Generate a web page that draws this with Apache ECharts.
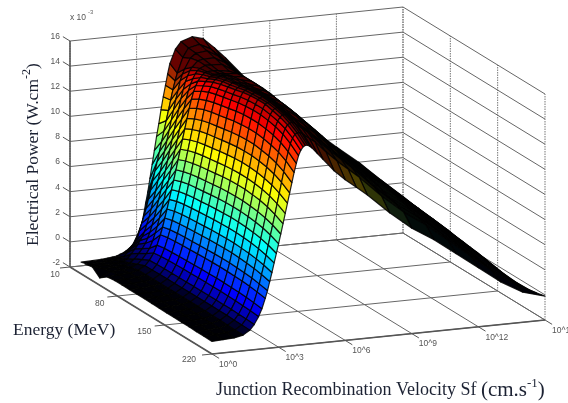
<!DOCTYPE html>
<html><head><meta charset="utf-8">
<style>html,body{margin:0;padding:0;background:#fff;overflow:hidden}#c{width:568px;height:403px;filter:blur(0.35px)}</style>
<script src="https://cdn.jsdelivr.net/npm/echarts@6/dist/echarts.min.js"></script>
</head><body><div id="c"></div>
<script>
const energyTicks=[10,80,150,220];
const energyTickLabels=['10','80','150','220'];
const sfTicks=[0,3,6,9,12,15];
const sfTickLabels=['10^0','10^3','10^6','10^9','10^12','10^1'];
const powerTicks=[-2,0,2,4,6,8,10,12,14,16];
const powerTickLabels=['-2','0','2','4','6','8','10','12','14','16'];
const energies=[10,21,32,43,54,65,76,87,98,109,120,131,142,153,164,175,186,197,208,220];
const sfExponents=[0,.5,1,1.4,1.7,1.9,2.1,2.25,2.4,2.5,2.6,2.7,2.8,2.9,3,3.1,3.2,3.3,3.4,3.5,3.6,3.7,3.8,3.9,4,4.1,4.2,4.3,4.4,4.5,4.75,5,5.5,6,6.5,7,8,9,10,11,12,13,14,15];
const power=[
[null,-1.7,-1.68,-1.65,-1.6,-1.55,-1.5,-1.4,-1.3,-1.2,-1.1,-.97,-.85,-.75,-.65,-.2,.6,1.4,2.4,3.3,4.4,5.5,6.6,7.7,8.7,9.8,10.8,11.7,12.6,13.4,14.5,15.05,15.35,15.1,14.3,13.4,11.44,9.9,8.3,6.85,5.4,4,2.4,.9],
[null,-1.53,-1.5,-1.45,-1.4,-1.3,-1.2,-.9,-.65,-.45,-.2,.1,.75,1.35,1.9,2.5,3.2,3.9,4.65,5.4,6.15,6.9,7.7,8.5,9.3,10.1,10.9,11.7,12.4,13,14.2,14.9,15.1,14.65,13.85,13,11.2,9.65,8.1,6.65,5.25,3.85,2.3,.8],
[-1.04,-1.3,-1.3,-1.25,-1.15,-1,-.6,-.25,.1,.4,.7,1.1,1.65,2.2,2.85,3.55,4.25,5.05,5.75,6.55,7.35,8.15,8.95,9.75,10.55,11.35,12.05,12.8,13.3,13.7,14.5,14.85,14.95,14.45,13.65,12.8,11,9.45,7.95,6.5,5.1,3.7,2.2,.7],
[-.91,-1.15,-1.1,-1.05,-.9,-.6,-.2,.14,.55,.95,1.4,1.95,2.55,3.25,3.95,4.7,5.45,6.2,7,7.8,8.6,9.4,10.2,11,11.8,12.5,13.1,13.55,13.95,14.2,14.65,14.75,14.75,14.25,13.45,12.6,10.8,9.3,7.8,6.4,5,3.6,2.1,.6],
[-1.42,-1,-.95,-.85,-.62,-.3,.14,.55,1.15,1.7,2.25,2.9,3.6,4.3,5.1,5.8,6.6,7.4,8.2,9,9.8,10.6,11.4,12.15,12.8,13.3,13.7,14.05,14.3,14.45,14.65,14.65,14.6,14.05,13.25,12.4,10.65,9.15,7.7,6.25,4.85,3.45,2,.5],
[-.98,-.9,-.85,-.7,-.4,0,.55,1.15,1.95,2.55,3.25,3.95,4.7,5.45,6.2,7,7.8,8.6,9.4,10.2,11,11.8,12.5,13.1,13.55,13.9,14.15,14.35,14.5,14.55,14.6,14.55,14.4,13.8,13,12.2,10.5,9,7.55,6.1,4.7,3.3,1.9,.4],
[-.9,-.88,-.82,-.69,-.38,.03,.64,1.26,2.08,2.7,3.42,4.13,4.9,5.67,6.44,7.21,8.04,8.86,9.68,10.5,11.32,12.14,12.86,13.48,13.89,14.2,14.4,14.55,14.65,14.7,14.7,14.65,14.6,14,13.2,12.35,10.6,9.06,7.62,6.13,4.7,3.31,1.88,.34],
[-.9,-.88,-.81,-.69,-.37,.05,.68,1.3,2.14,2.77,3.5,4.23,5.02,5.8,6.59,7.37,8.21,9.05,9.88,10.73,11.56,12.4,13.13,13.76,14.18,14.5,14.7,14.83,14.9,14.95,14.9,14.8,14.7,14.07,13.25,12.4,10.62,9.05,7.58,6.12,4.65,3.29,1.83,.26],
[-.9,-.88,-.81,-.68,-.36,.06,.7,1.34,2.18,2.82,3.56,4.3,5.09,5.89,6.68,7.48,8.33,9.18,10.02,10.88,11.72,12.57,13.31,13.95,14.37,14.7,14.9,15,15.1,15.1,15,14.9,14.7,14.06,13.25,12.37,10.57,8.98,7.6,6.06,4.62,3.24,1.76,.17],
[-.9,-.88,-.81,-.68,-.36,.07,.72,1.36,2.21,2.85,3.6,4.35,5.15,5.95,6.75,7.56,8.42,9.27,10.12,10.99,11.84,12.69,13.45,14.09,14.52,14.85,15,15.15,15.15,15.15,15.05,14.95,14.65,14,13.15,12.3,10.48,8.87,7.48,5.97,4.53,3.08,1.69,.03],
[-.9,-.88,-.81,-.68,-.35,.08,.73,1.38,2.24,2.89,3.65,4.4,5.21,6.02,6.83,7.64,8.51,9.37,10.23,11.1,11.96,12.82,13.58,14.23,14.66,15,15.15,15.25,15.3,15.25,15.15,14.95,14.6,13.85,13.05,12.22,10.39,8.82,7.41,5.89,4.43,2.97,1.57,-.05],
[-.92,-.88,-.81,-.67,-.35,.09,.75,1.4,2.27,2.92,3.69,4.45,5.26,6.08,6.9,7.72,8.6,9.46,10.33,11.21,12.08,12.95,13.72,14.37,14.81,15.15,15.3,15.4,15.4,15.35,15.2,14.95,14.55,13.8,13,12.15,10.35,8.71,7.34,5.81,4.34,2.86,1.49,-.19],
[-.92,-.88,-.81,-.67,-.34,.1,.76,1.42,2.29,2.95,3.72,4.48,5.3,6.12,6.95,7.77,8.66,9.53,10.4,11.29,12.16,13.03,13.81,14.46,14.91,15.25,15.35,15.45,15.45,15.4,15.2,14.95,14.45,13.69,12.85,12.03,10.22,8.63,7.25,5.7,4.22,2.74,1.41,-.33],
[-.94,-.9,-.82,-.67,-.34,.11,.77,1.43,2.3,2.96,3.74,4.5,5.32,6.15,6.97,7.8,8.69,9.56,10.44,11.33,12.2,13.08,13.85,14.51,14.96,15.3,15.4,15.5,15.45,15.4,15.15,14.85,14.3,13.54,12.7,11.88,10.05,8.46,7.13,5.57,4.08,2.6,1.32,-.43],
[-.94,-.9,-.82,-.67,-.34,.11,.77,1.43,2.3,2.96,3.74,4.5,5.32,6.15,6.97,7.8,8.69,9.56,10.44,11.33,12.2,13.08,13.85,14.51,14.96,15.3,15.4,15.45,15.45,15.35,15.05,14.75,14.1,13.34,12.5,11.68,9.85,8.26,6.93,5.42,3.93,2.45,1.22,-.48],
[-.96,-.92,-.85,-.69,-.34,.1,.75,1.41,2.28,2.94,3.71,4.46,5.28,6.1,6.92,7.74,8.63,9.5,10.37,11.25,12.12,12.99,13.76,14.42,14.86,15.15,15.3,15.35,15.3,15.2,14.85,14.5,13.8,13.04,12.2,11.39,9.63,8,6.72,5.23,3.8,2.33,1.1,-.49],
[-.96,-.92,-.85,-.69,-.35,.09,.74,1.39,2.25,2.9,3.66,4.41,5.23,6.04,6.85,7.66,8.54,9.4,10.26,11.14,12,12.86,13.63,14.28,14.71,15,15.15,15.15,15.1,15,14.65,14.25,13.45,12.65,11.85,11.06,9.32,7.75,6.49,5.01,3.6,2.14,.97,-.45],
[-.98,-.94,-.87,-.72,-.38,.07,.71,1.35,2.2,2.84,3.59,4.33,5.13,5.93,6.73,7.53,8.39,9.24,10.09,10.95,11.8,12.65,13.4,14.04,14.47,14.75,14.85,14.9,14.85,14.7,14.35,14,13.15,12.36,11.6,10.8,9.09,7.54,6.3,4.9,3.46,2.02,.83,-.37],
[-.98,-.94,-.87,-.73,-.4,.04,.67,1.29,2.12,2.74,3.47,4.2,4.98,5.76,6.54,7.32,8.15,8.98,9.81,10.65,11.48,12.31,13.04,13.66,14.08,14.35,14.45,14.45,14.4,14.25,13.9,13.6,12.7,11.88,11.15,10.41,8.74,7.28,6.08,4.67,3.27,1.86,.66,-.25],
[-1,-.95,-.9,-.75,-.42,0,.6,1.2,2,2.6,3.3,4,4.75,5.5,6.25,7,7.8,8.6,9.4,10.2,11,11.8,12.5,13.1,13.5,13.75,13.85,13.85,13.75,13.6,13.1,12.6,11.6,10.8,10.1,9.4,7.8,6.4,5.3,4,2.7,1.4,.4,-.1]
];

// orthographic view of the box, in page pixels
const O=[70,267],UX=[142,87],VX=[333,-34],WX=[0,-226];
const uOf=e=>(e-10)/210,vOf=s=>s/15,wOf=p=>(p+2)/18;
function project(e,s,p){const u=uOf(e),v=vOf(s),w=wOf(p);return [O[0]+u*UX[0]+v*VX[0],O[1]+u*UX[1]+v*VX[1]+w*WX[1]];}
const CMIN=-1,CMAX=16;
const clamp=x=>Math.max(0,Math.min(1,x));
function jet(t){return [clamp(1.5-Math.abs(4*t-3)),clamp(1.5-Math.abs(4*t-2)),clamp(1.5-Math.abs(4*t-1))];}
const SX=376,SY=360,SZ=233;
const L=(()=>{const a=[.15,-.95,.1],n=Math.hypot(...a);return a.map(x=>x/n);})();
function pt3(i,j){return [uOf(energies[i])*SX,vOf(sfExponents[j])*SY,wOf(power[i][j])*SZ];}
const cells=[];
for(let i=0;i<energies.length-1;i++)for(let j=0;j<sfExponents.length-1;j++){
  const zs=[power[i][j],power[i+1][j],power[i+1][j+1],power[i][j+1]];
  if(zs.some(z=>z===null))continue;
  const a=pt3(i,j),b=pt3(i+1,j),c=pt3(i+1,j+1),d=pt3(i,j+1);
  const d1=[c[0]-a[0],c[1]-a[1],c[2]-a[2]],d2=[d[0]-b[0],d[1]-b[1],d[2]-b[2]];
  let n=[d1[1]*d2[2]-d1[2]*d2[1],d1[2]*d2[0]-d1[0]*d2[2],d1[0]*d2[1]-d1[1]*d2[0]];
  const len=Math.hypot(...n);n=n.map(x=>x/len);if(n[2]<0)n=n.map(x=>-x);
  const dot=Math.max(0,n[0]*L[0]+n[1]*L[1]+n[2]*L[2]);
  const zm=(zs[0]+zs[1]+zs[2]+zs[3])/4;
  const sMid=(sfExponents[j]+sfExponents[j+1])/2;
  const main=1.15*dot*dot*dot*clamp(1-(sMid-4.2)*1.8);
  const edge=Math.min(.28,.8*Math.max(0,n[0]-.12)*clamp((zm-6)/4));
  const glow=.35*clamp((zm-13)/2);
  const b2=.03+main+edge+glow;
  const col=jet(clamp((zm-CMIN)/(CMAX-CMIN))).map(x=>Math.round(255*clamp(x*Math.min(1,b2))));
  const depth=337*uOf(energies[i]+5)-132*vOf(sfExponents[j])+58*wOf(zm);
  cells.push({i,j,col:`rgb(${col})`,depth});
}
cells.sort((a,b)=>a.depth-b.depth);

// box lines: [e1,s1,p1,e2,s2,p2,kind]
const E0=10,E1=220,S0=0,S1=15,P0=-2,P1=16;
const segs=[];
sfTicks.forEach(s=>{segs.push([E0,s,P0,E0,s,P1,'dot']);segs.push([E0,s,P0,E1,s,P0,'grid']);});
energyTicks.forEach(e=>{segs.push([e,S1,P0,e,S1,P1,'dot']);segs.push([e,S0,P0,e,S1,P0,'grid']);});
powerTicks.forEach(p=>{segs.push([E0,S0,p,E0,S1,p,'wall']);segs.push([E0,S1,p,E1,S1,p,'wall']);});
segs.push([E0,S0,P0,E0,S0,P1,'axis'],[E0,S0,P0,E1,S0,P0,'axis'],[E1,S0,P0,E1,S1,P0,'axis']);
powerTicks.forEach(p=>segs.push([E0-10.5,S0,p,E0,S0,p,'tick']));
energyTicks.forEach(e=>segs.push([e,S0-.45,P0,e,S0,P0,'tick']));
sfTicks.forEach(s=>segs.push([E1,s,P0,E1+10.5,s,P0,'tick']));
const segStyle={dot:{stroke:'#777',lineWidth:1,lineDash:[1.5,1]},grid:{stroke:'#666',lineWidth:1},wall:{stroke:'#666',lineWidth:1},axis:{stroke:'#555',lineWidth:1.6},tick:{stroke:'#555',lineWidth:1}};

const tickTexts=[];
powerTicks.forEach((p,k)=>{const q=project(E0,S0,p);tickTexts.push([q[0]-10,q[1]-4.5,powerTickLabels[k],'right']);});
energyTicks.forEach((e,k)=>{const q=project(e,S0,P0),u=uOf(e);tickTexts.push([q[0]-15-8*u,q[1]+8-2*u,energyTickLabels[k],'center']);});
sfTicks.forEach((s,k)=>{const q=project(E1,s,P0);tickTexts.push([q[0]+7,q[1]+10.5,sfTickLabels[k],'left']);});

const chart=echarts.init(document.getElementById('c'),null,{renderer:'canvas'});
const serif='"Liberation Serif",serif',sans='"Liberation Sans",sans-serif';
chart.setOption({
  animation:false,
  grid:{left:0,right:0,top:0,bottom:0},
  xAxis:{type:'value',min:0,max:568,show:false},
  yAxis:{type:'value',min:0,max:403,inverse:true,show:false},
  series:[
   {type:'custom',coordinateSystem:'cartesian2d',silent:true,z:1,data:segs.map((_,k)=>[k]),progressive:0,
    renderItem(params,api){const g=segs[api.value(0)];
      const a=api.coord(project(g[0],g[1],g[2])),b=api.coord(project(g[3],g[4],g[5]));
      return {type:'line',shape:{x1:a[0],y1:a[1],x2:b[0],y2:b[1]},style:Object.assign({fill:null},segStyle[g[6]])};}},
   {type:'custom',coordinateSystem:'cartesian2d',silent:true,z:2,data:cells.map((_,k)=>[k]),progressive:0,
    renderItem(params,api){const c=cells[api.value(0)],i=c.i,j=c.j;
      const pts=[[i,j],[i+1,j],[i+1,j+1],[i,j+1]].map(q=>api.coord(project(energies[q[0]],sfExponents[q[1]],power[q[0]][q[1]])));
      return {type:'polygon',shape:{points:pts},style:{fill:c.col,stroke:'rgba(0,0,0,0.85)',lineWidth:1.2,lineJoin:'round'}};}},
   {type:'custom',coordinateSystem:'cartesian2d',silent:true,z:3,data:tickTexts.map((_,k)=>[k]),progressive:0,
    renderItem(params,api){const t=tickTexts[api.value(0)],p=api.coord([t[0],t[1]]);
      return {type:'text',x:p[0],y:p[1],style:{text:t[2],textAlign:t[3],textVerticalAlign:'middle',fill:'#555',fontSize:8.5,fontFamily:sans}};}}
  ],
  graphic:[
   {type:'text',x:70,y:18,silent:true,style:{text:'x 10',fill:'#555',fontSize:8.5,fontFamily:sans,textVerticalAlign:'middle'}},
   {type:'text',x:88,y:12,silent:true,style:{text:'-3',fill:'#666',fontSize:6,fontFamily:sans,textVerticalAlign:'middle'}},
   {type:'text',x:33,y:246,rotation:Math.PI/2,silent:true,style:{text:'{a|Electrical Power (W.cm}{b|-2}{a|)}',textAlign:'left',textVerticalAlign:'middle',rich:{a:{fontSize:17.5,fontFamily:serif,fill:'#1c2233',lineHeight:24},b:{fontSize:12,fontFamily:serif,fill:'#1c2233',verticalAlign:'top',lineHeight:14}}}},
   {type:'text',x:13,y:330,silent:true,style:{text:'Energy (MeV)',fill:'#1c2233',fontSize:17.5,fontFamily:serif,textVerticalAlign:'middle'}},
   {type:'text',x:216,y:390,silent:true,style:{text:'{a|Junction Recombination Velocity Sf }{c|(cm.s}{b|-1}{c|)}',textVerticalAlign:'middle',rich:{a:{fontSize:18,fontFamily:serif,fill:'#1c2233',lineHeight:26},c:{fontSize:21,fontFamily:serif,fill:'#1c2233',lineHeight:26},b:{fontSize:13,fontFamily:serif,fill:'#1c2233',verticalAlign:'top',lineHeight:14}}}}
  ]
});
</script></body></html>
